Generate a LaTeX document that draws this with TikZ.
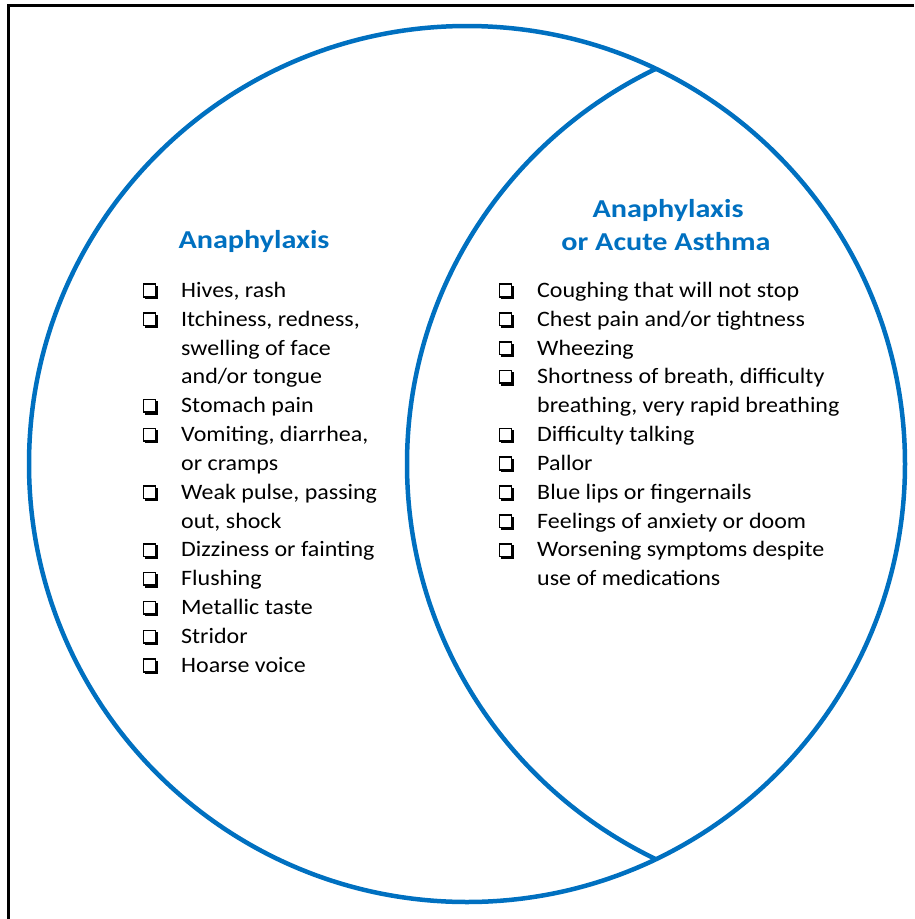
\documentclass[tikz,border=0pt]{standalone}
\usepackage{fontspec}
\setmainfont{Carlito}[FakeStretch=1.09]
\newfontfamily\ttlfont{Carlito}[FakeStretch=1.17]
\definecolor{vblue}{RGB}{0,112,192}
\tikzset{
  x=1pt, y=-1pt,
  item/.style={anchor=base west, inner sep=0pt, font=\fontsize{22}{26}\selectfont},
  ttl/.style={anchor=base, inner sep=0pt, text=vblue, font=\ttlfont\fontsize{25.8}{30}\selectfont\bfseries},
  ring/.style={draw=vblue, line width=4.5pt},
  framestyle/.style={draw=black, line width=3pt},
  chk/.pic={
    \fill[black] (2.5,2.5) rectangle (15.4,15.8);
    \filldraw[fill=white, draw=black, line width=1.6pt] (0.8,0.8) rectangle (13,13.4);
  }
}
\begin{document}
\begin{tikzpicture}
\useasboundingbox (0,0) rectangle (914,919);
% frame (top and left edges)
\coordinate (ftr) at (914,5);
\coordinate (ftl) at (8.7,5);
\coordinate (fbl) at (8.7,919);
\draw[framestyle] (ftr) -- (ftl) -- (fbl);
% circles
\coordinate (cL) at (467,464);
\coordinate (cR) at (845,464);
\draw[ring] (cL) circle[radius=438];
\begin{scope}
  \clip (cL) circle[radius=438];
  \draw[ring] (cR) circle[radius=438];
\end{scope}
% titles
\node[ttl] (tL) at (254,248) {Anaphylaxis};
\node[ttl] (tR1) at (668,217) {Anaphylaxis};
\node[ttl] (tR2) at (666,250.5) {or Acute Asthma};
% left list
\foreach \t/\b [count=\k from 0] in {
  {Hives, rash}/1,
  {Itchiness, redness,}/1,
  {swelling of face}/0,
  {and/or tongue}/0,
  {Stomach pain}/1,
  {Vomiting, diarrhea,}/1,
  {or cramps}/0,
  {Weak pulse, passing}/1,
  {out, shock}/0,
  {Dizziness or fainting}/1,
  {Flushing}/1,
  {Metallic taste}/1,
  {Stridor}/1,
  {Hoarse voice}/1}{
  \node[item] (L\k) at (181,{297.3+28.85*\k}) {\t};
  \ifnum\b=1 \pic at (142.5,{283.3+28.85*\k}) {chk}; \fi
}
% right list
\foreach \t/\b [count=\k from 0] in {
  {Coughing that will not stop}/1,
  {Chest pain and/or tightness}/1,
  {Wheezing}/1,
  {Shortness of breath, difficulty}/1,
  {breathing, very rapid breathing}/0,
  {Difficulty talking}/1,
  {Pallor}/1,
  {Blue lips or fingernails}/1,
  {Feelings of anxiety or doom}/1,
  {Worsening symptoms despite}/1,
  {use of medications}/0}{
  \node[item] (R\k) at (537,{297.3+28.85*\k}) {\t};
  \ifnum\b=1 \pic at (498.5,{283.3+28.85*\k}) {chk}; \fi
}
\end{tikzpicture}
\end{document}
